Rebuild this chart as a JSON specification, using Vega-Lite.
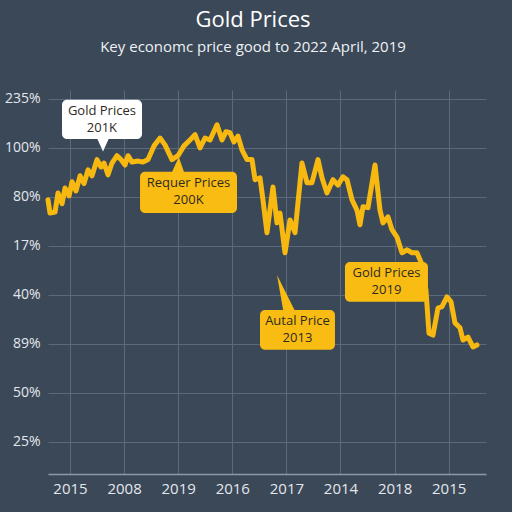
{
  "$schema": "https://vega.github.io/schema/vega-lite/v6.json",
  "autosize": {"type": "none"},
  "padding": {"left": 48, "top": 90, "right": 26, "bottom": 38},
  "width": 438,
  "height": 384,
  "background": "#3b4858",
  "title": {
    "text": "Gold Prices",
    "subtitle": "Key economc price good to 2022 April, 2019",
    "anchor": "middle",
    "frame": "group",
    "dx": -14,
    "offset": 34,
    "font": "Open Sans",
    "fontSize": 22,
    "fontWeight": "normal",
    "color": "#ffffff",
    "subtitleFont": "Open Sans",
    "subtitleFontSize": 15,
    "subtitleColor": "#eef1f4",
    "subtitlePadding": 8
  },
  "config": {
    "view": {"stroke": null},
    "axis": {
      "labelFont": "Open Sans",
      "labelColor": "#e3e7ec",
      "gridColor": "#5a697c",
      "gridWidth": 1,
      "ticks": false,
      "title": null
    }
  },
  "datasets": {
    "series": [
      {"t": -0.407, "v": 4.94}, {"t": -0.37, "v": 4.67}, {"t": -0.277, "v": 4.69},
      {"t": -0.222, "v": 5.08}, {"t": -0.148, "v": 4.86}, {"t": -0.092, "v": 5.18},
      {"t": -0.018, "v": 5.02}, {"t": 0.037, "v": 5.31}, {"t": 0.111, "v": 5.12},
      {"t": 0.185, "v": 5.43}, {"t": 0.259, "v": 5.27}, {"t": 0.333, "v": 5.55},
      {"t": 0.407, "v": 5.43}, {"t": 0.499, "v": 5.76}, {"t": 0.573, "v": 5.61},
      {"t": 0.628, "v": 5.69}, {"t": 0.702, "v": 5.45}, {"t": 0.776, "v": 5.69},
      {"t": 0.869, "v": 5.84}, {"t": 0.943, "v": 5.76}, {"t": 1.017, "v": 5.65},
      {"t": 1.072, "v": 5.84}, {"t": 1.146, "v": 5.71}, {"t": 1.257, "v": 5.73},
      {"t": 1.349, "v": 5.71}, {"t": 1.442, "v": 5.76}, {"t": 1.553, "v": 6.04},
      {"t": 1.664, "v": 6.2}, {"t": 1.756, "v": 6.06}, {"t": 1.885, "v": 5.76},
      {"t": 1.996, "v": 5.84}, {"t": 2.107, "v": 6.04}, {"t": 2.218, "v": 6.16},
      {"t": 2.311, "v": 6.27}, {"t": 2.403, "v": 6.0}, {"t": 2.495, "v": 6.2},
      {"t": 2.588, "v": 6.16}, {"t": 2.717, "v": 6.47}, {"t": 2.81, "v": 6.16},
      {"t": 2.884, "v": 6.33}, {"t": 2.957, "v": 6.31}, {"t": 3.031, "v": 6.12},
      {"t": 3.105, "v": 6.24}, {"t": 3.179, "v": 5.96}, {"t": 3.272, "v": 5.76},
      {"t": 3.364, "v": 5.76}, {"t": 3.42, "v": 5.35}, {"t": 3.512, "v": 5.39},
      {"t": 3.567, "v": 4.94}, {"t": 3.641, "v": 4.27}, {"t": 3.752, "v": 5.2},
      {"t": 3.826, "v": 4.47}, {"t": 3.882, "v": 4.67}, {"t": 3.974, "v": 3.86},
      {"t": 4.067, "v": 4.53}, {"t": 4.159, "v": 4.27}, {"t": 4.288, "v": 5.69},
      {"t": 4.381, "v": 5.29}, {"t": 4.473, "v": 5.29}, {"t": 4.584, "v": 5.76},
      {"t": 4.658, "v": 5.39}, {"t": 4.75, "v": 5.08}, {"t": 4.861, "v": 5.35},
      {"t": 4.954, "v": 5.24}, {"t": 5.046, "v": 5.41}, {"t": 5.12, "v": 5.35},
      {"t": 5.213, "v": 4.94}, {"t": 5.305, "v": 4.73}, {"t": 5.36, "v": 4.43},
      {"t": 5.416, "v": 4.8}, {"t": 5.508, "v": 4.78}, {"t": 5.638, "v": 5.65},
      {"t": 5.73, "v": 4.73}, {"t": 5.786, "v": 4.47}, {"t": 5.878, "v": 4.59},
      {"t": 5.952, "v": 4.33}, {"t": 6.044, "v": 4.18}, {"t": 6.137, "v": 3.86},
      {"t": 6.229, "v": 3.92}, {"t": 6.322, "v": 3.86}, {"t": 6.414, "v": 3.86},
      {"t": 6.488, "v": 3.67}, {"t": 6.58, "v": 3.1}, {"t": 6.636, "v": 2.22},
      {"t": 6.71, "v": 2.18}, {"t": 6.802, "v": 2.73}, {"t": 6.876, "v": 2.76},
      {"t": 6.969, "v": 2.96}, {"t": 7.043, "v": 2.86}, {"t": 7.116, "v": 2.43},
      {"t": 7.209, "v": 2.33}, {"t": 7.264, "v": 2.08}, {"t": 7.357, "v": 2.14},
      {"t": 7.449, "v": 1.94}, {"t": 7.523, "v": 1.98}
    ],
    "notes": [
      {"id": "a", "kind": "white", "label": "Gold Prices\n201K", "x1": -0.148, "x2": 1.331, "y1": 6.98, "y2": 6.18, "cx": 0.59, "cy": 6.58},
      {"id": "b", "kind": "gold", "label": "Requer Prices\n200K", "x1": 1.294, "x2": 3.087, "y1": 5.51, "y2": 4.67, "cx": 2.19, "cy": 5.1},
      {"id": "c", "kind": "gold", "label": "Autal Price\n2013", "x1": 3.512, "x2": 4.898, "y1": 2.69, "y2": 1.88, "cx": 4.205, "cy": 2.29},
      {"id": "d", "kind": "gold", "label": "Gold Prices\n2019", "x1": 5.083, "x2": 6.617, "y1": 3.67, "y2": 2.86, "cx": 5.85, "cy": 3.27}
    ],
    "pointers": [
      {"id": "a", "kind": "white", "px": 0.61, "py": 6.08},
      {"id": "b", "kind": "gold", "px": 1.996, "py": 5.65},
      {"id": "c", "kind": "gold", "px": 3.993, "py": 3.04}
    ]
  },
  "layer": [
    {
      "data": {"name": "series"},
      "mark": {"type": "line", "color": "#f7b90f", "strokeWidth": 5, "strokeJoin": "round", "strokeCap": "round"},
      "encoding": {
        "x": {
          "field": "t", "type": "quantitative",
          "scale": {"domain": [-0.407, 7.69], "nice": false, "zero": false},
          "axis": {
            "values": [0, 1, 2, 3, 4, 5, 6, 7],
            "labelExpr": "['2015','2008','2019','2016','2017','2014','2018','2015'][datum.value]",
            "labelFontSize": 15,
            "labelPadding": 7,
            "domainColor": "#8d99a8",
            "domainWidth": 1.5,
            "grid": true
          }
        },
        "y": {
          "field": "v", "type": "quantitative",
          "scale": {"domain": [-0.653, 7.18], "nice": false, "zero": false},
          "axis": {
            "values": [0, 1, 2, 3, 4, 5, 6, 7],
            "labelExpr": "['25%','50%','89%','40%','17%','80%','100%','235%'][datum.value]",
            "labelFontSize": 14,
            "labelPadding": 8,
            "domain": false,
            "grid": true
          }
        }
      }
    },
    {
      "data": {"name": "pointers"},
      "transform": [{"filter": "datum.id == 'a'"}],
      "mark": {"type": "point", "filled": true, "opacity": 1, "shape": "M0,1 L-0.9,-1 L0.9,-1 Z", "size": 225, "color": "#ffffff"},
      "encoding": {
        "x": {"field": "px", "type": "quantitative"},
        "y": {"field": "py", "type": "quantitative"}
      }
    },
    {
      "data": {"name": "pointers"},
      "transform": [{"filter": "datum.id == 'b'"}],
      "mark": {"type": "point", "filled": true, "opacity": 1, "shape": "M0.1,-1 L-0.8,1 L0.8,1 Z", "size": 256, "color": "#f8bc12"},
      "encoding": {
        "x": {"field": "px", "type": "quantitative"},
        "y": {"field": "py", "type": "quantitative"}
      }
    },
    {
      "data": {"name": "pointers"},
      "transform": [{"filter": "datum.id == 'c'"}],
      "mark": {"type": "point", "filled": true, "opacity": 1, "shape": "M-0.5,-1 L-0.15,1 L0.5,1 Z", "size": 1296, "color": "#f8bc12"},
      "encoding": {
        "x": {"field": "px", "type": "quantitative"},
        "y": {"field": "py", "type": "quantitative"}
      }
    },
    {
      "data": {"name": "notes"},
      "mark": {"type": "rect", "cornerRadius": 5},
      "encoding": {
        "x": {"field": "x1", "type": "quantitative"},
        "x2": {"field": "x2"},
        "y": {"field": "y1", "type": "quantitative"},
        "y2": {"field": "y2"},
        "color": {
          "field": "kind", "type": "nominal",
          "scale": {"domain": ["white", "gold"], "range": ["#ffffff", "#f8bc12"]},
          "legend": null
        }
      }
    },
    {
      "data": {"name": "notes"},
      "mark": {"type": "text", "font": "Open Sans", "fontSize": 13, "lineBreak": "\n", "lineHeight": 17, "dy": -8.5, "color": "#2e2a22", "align": "center", "baseline": "middle"},
      "encoding": {
        "x": {"field": "cx", "type": "quantitative"},
        "y": {"field": "cy", "type": "quantitative"},
        "text": {"field": "label"}
      }
    }
  ]
}
